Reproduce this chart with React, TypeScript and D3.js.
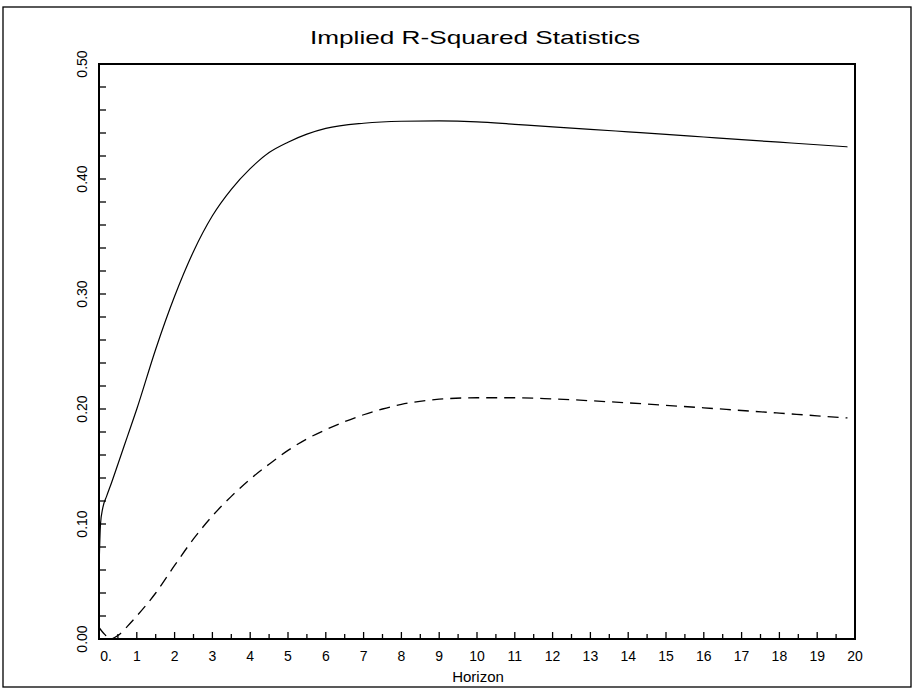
import React, { useRef, useEffect } from "react";
import * as d3 from "d3";

// horizon grid and implied R-squared values
const solidHorizon = [0, 0.04, 0.1, 0.2, 0.3, 0.5, 0.75, 1, 1.5, 2, 2.5, 3, 3.5, 4, 4.5, 5, 5.5, 6, 7, 8, 9, 10, 11, 12, 13, 14, 15, 16, 17, 18, 19, 19.8];
const solidValues = [0.06, 0.1, 0.114, 0.124, 0.133, 0.152, 0.176, 0.2, 0.252, 0.298, 0.337, 0.368, 0.391, 0.409, 0.423, 0.432, 0.439, 0.444, 0.4485, 0.4502, 0.4505, 0.4497, 0.4475, 0.4453, 0.4432, 0.441, 0.4388, 0.4365, 0.4342, 0.432, 0.4298, 0.428];

const dashedHorizon = [0, 0.15, 0.3, 0.5, 0.75, 1, 1.5, 2, 2.5, 3, 3.5, 4, 4.5, 5, 5.5, 6, 6.5, 7, 7.5, 8, 9, 10, 11, 12, 13, 14, 15, 16, 17, 18, 19, 19.8];
const dashedValues = [0.01, 0.004, 0.0, 0.003, 0.011, 0.02, 0.04, 0.064, 0.087, 0.107, 0.124, 0.139, 0.152, 0.164, 0.174, 0.182, 0.189, 0.195, 0.2, 0.204, 0.2085, 0.2098, 0.2098, 0.2088, 0.2072, 0.2053, 0.2032, 0.201, 0.1987, 0.1964, 0.1941, 0.1922];

const xTickValues = d3.range(0, 21);
const xTickLabels = ["0.", "1", "2", "3", "4", "5", "6", "7", "8", "9", "10", "11", "12", "13", "14", "15", "16", "17", "18", "19", "20"];
const yTickValues = [0, 0.1, 0.2, 0.3, 0.4, 0.5];
const yTickLabels = ["0.00", "0.10", "0.20", "0.30", "0.40", "0.50"];

const App: React.FC = () => {
  const svgRef = useRef<SVGSVGElement | null>(null);

  useEffect(() => {
    if (!svgRef.current) return;
    const svg = d3.select(svgRef.current);
    svg.selectAll("*").remove();

    const left = 99, right = 855, top = 64, bottom = 639;
    const x = d3.scaleLinear().domain([0, 20]).range([left, right]);
    const y = d3.scaleLinear().domain([0, 0.5]).range([bottom, top]);
    const font = "'Liberation Sans', Arial, sans-serif";

    // outer frame
    svg.append("rect")
      .attr("x", 3).attr("y", 7).attr("width", 908).attr("height", 680)
      .attr("fill", "none").attr("stroke", "#000").attr("stroke-width", 1.3);

    // title
    svg.append("text")
      .attr("x", 475).attr("y", 44)
      .attr("text-anchor", "middle")
      .attr("font-family", font).attr("font-size", 19)
      .attr("textLength", 330).attr("lengthAdjust", "spacingAndGlyphs")
      .text("Implied R-Squared Statistics");

    // plot box
    svg.append("rect")
      .attr("x", left).attr("y", top).attr("width", right - left).attr("height", bottom - top)
      .attr("fill", "none").attr("stroke", "#000").attr("stroke-width", 2);

    // y ticks (every 0.02) pointing inward
    const g = svg.append("g").attr("stroke", "#000").attr("stroke-width", 1.3);
    g.selectAll("line.yt")
      .data(d3.range(0, 26).map((i) => i * 0.02))
      .join("line")
      .attr("class", "yt")
      .attr("x1", left).attr("x2", left + 7)
      .attr("y1", (d) => y(d)).attr("y2", (d) => y(d));

    // x ticks (every 0.5) pointing up
    g.selectAll("line.xt")
      .data(d3.range(0, 41).map((i) => i * 0.5))
      .join("line")
      .attr("class", "xt")
      .attr("x1", (d) => x(d)).attr("x2", (d) => x(d))
      .attr("y1", bottom).attr("y2", (d) => bottom - (Number.isInteger(d) ? 7 : 5));

    // y tick labels, rotated
    svg.append("g")
      .selectAll("text")
      .data(yTickValues)
      .join("text")
      .attr("transform", (d) => `translate(87,${y(d)}) rotate(-90)`)
      .attr("text-anchor", "middle")
      .attr("font-family", font).attr("font-size", 14)
      .text((d, i) => yTickLabels[i]);

    // x tick labels
    svg.append("g")
      .selectAll("text")
      .data(xTickValues)
      .join("text")
      .attr("x", (d) => x(d) + (d === 0 ? 7 : 0))
      .attr("y", 661)
      .attr("text-anchor", "middle")
      .attr("font-family", font).attr("font-size", 14)
      .text((d, i) => xTickLabels[i]);

    svg.append("text")
      .attr("x", 478).attr("y", 682)
      .attr("text-anchor", "middle")
      .attr("font-family", font).attr("font-size", 15)
      .text("Horizon");

    const line = d3.line<[number, number]>()
      .x((d) => x(d[0]))
      .y((d) => y(d[1]))
      .curve(d3.curveMonotoneX);

    svg.append("path")
      .datum(solidHorizon.map((h, i) => [h, solidValues[i]] as [number, number]))
      .attr("fill", "none").attr("stroke", "#000").attr("stroke-width", 1.2)
      .attr("d", line);

    svg.append("path")
      .datum(dashedHorizon.map((h, i) => [h, dashedValues[i]] as [number, number]))
      .attr("fill", "none").attr("stroke", "#000").attr("stroke-width", 1.3)
      .attr("stroke-dasharray", "11,7")
      .attr("d", line);
  }, []);

  return (
    <svg
      ref={svgRef}
      width={916}
      height={694}
      style={{ position: "absolute", left: 0, top: 0, background: "#fff" }}
    />
  );
};

export default App;
